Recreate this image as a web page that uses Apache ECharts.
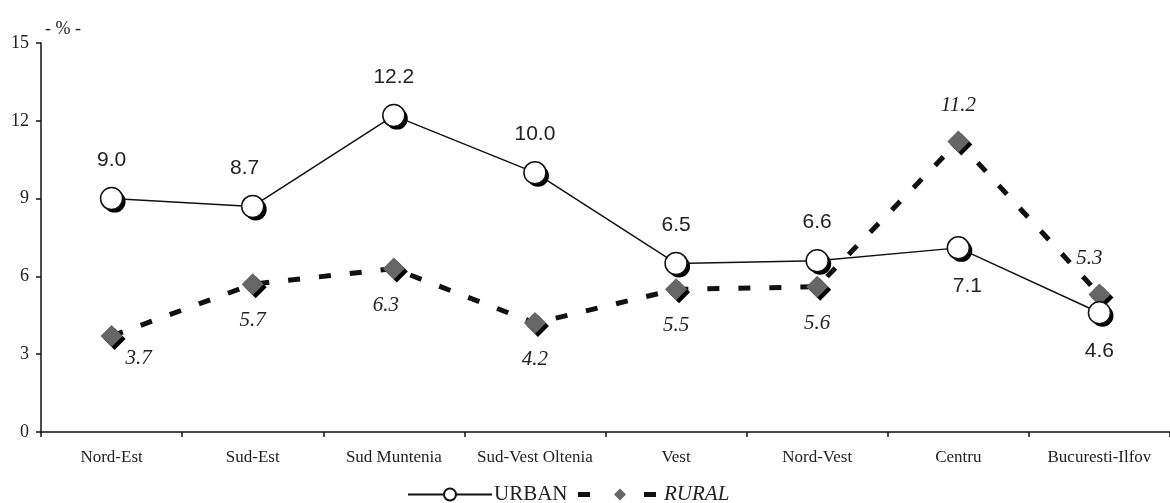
<!DOCTYPE html>
<html>
<head>
<meta charset="utf-8">
<script src="https://cdn.jsdelivr.net/npm/echarts@6/dist/echarts.min.js"></script>
<style>html,body{margin:0;padding:0;background:#fff;}#c{width:1170px;height:503px;}</style>
</head>
<body>
<div id="c"></div>
<script>
// ---- data ----
const categories = ['Nord-Est', 'Sud-Est', 'Sud Muntenia', 'Sud-Vest Oltenia', 'Vest', 'Nord-Vest', 'Centru', 'Bucuresti-Ilfov'];
const urban = [9.0, 8.7, 12.2, 10.0, 6.5, 6.6, 7.1, 4.6];
const rural = [3.7, 5.7, 6.3, 4.2, 5.5, 5.6, 11.2, 5.3];
const yTicks = [0, 3, 6, 9, 12, 15];
const seriesNames = ['URBAN', 'RURAL'];
const unitLabel = '- % -';

// ---- style-only per-point label nudges (not data) ----
const ruralLabelNudge = [[27, -14], [0, 0], [-8, 0], [0, 0], [0, 0], [0, 0], [0, 0], [-10, 0]];
const urbanLabelNudge = [[0, 0], [-8, 0], [0, 0], [0, 0], [0, 0], [0, 0], [9, 0], [0, 0]];

const serif = 'Liberation Serif';
const sans = 'Liberation Sans';

const urbanData = urban.map((v, i) => ({
  value: v,
  label: { position: v >= rural[i] ? 'top' : 'bottom', offset: urbanLabelNudge[i] }
}));
const ruralData = rural.map((v, i) => ({
  value: v,
  label: { position: v > urban[i] ? 'top' : 'bottom', offset: ruralLabelNudge[i] }
}));

function shadowSeries(values, symbol, size, z) {
  return {
    name: '_shadow' + z,
    type: 'line',
    data: values,
    symbol: symbol,
    symbolSize: size,
    symbolOffset: [3, 3],
    showAllSymbol: true,
    lineStyle: { width: 0, opacity: 0 },
    itemStyle: { color: '#000', borderWidth: 0 },
    label: { show: false },
    silent: true,
    tooltip: { show: false },
    emphasis: { disabled: true },
    z: z
  };
}

const chart = echarts.init(document.getElementById('c'), null, { renderer: 'canvas' });
chart.setOption({
  animation: false,
  backgroundColor: '#fff',
  title: {
    text: unitLabel, left: 40, top: 15,
    textStyle: { fontFamily: serif, fontSize: 18, fontWeight: 'normal', color: '#222' }
  },
  grid: { left: 41, top: 43, width: 1138, height: 389, containLabel: false },
  xAxis: {
    type: 'category',
    data: categories,
    boundaryGap: true,
    axisLine: { lineStyle: { color: '#111', width: 1.5 } },
    axisTick: { show: true, length: 5, inside: false, lineStyle: { color: '#111', width: 1.5 } },
    axisLabel: { fontFamily: serif, fontSize: 17, color: '#222', margin: 17, interval: 0 },
    splitLine: { show: false }
  },
  yAxis: {
    type: 'value',
    min: yTicks[0], max: yTicks[yTicks.length - 1], interval: yTicks[1] - yTicks[0],
    axisLine: { show: true, lineStyle: { color: '#111', width: 1.5 } },
    axisTick: { show: true, length: 5, lineStyle: { color: '#111', width: 1.5 } },
    axisLabel: { fontFamily: serif, fontSize: 18, color: '#222', margin: 12 },
    splitLine: { show: false }
  },
  legend: {
    left: 402, top: 479,
    itemWidth: 84, itemHeight: 15, itemGap: 8,
    itemStyle: { shadowBlur: 0, shadowOffsetX: 0, shadowOffsetY: 0, shadowColor: 'rgba(0,0,0,0)' },
    data: [
      { name: seriesNames[0], textStyle: { fontFamily: serif, fontSize: 21, color: '#222' } },
      { name: seriesNames[1], textStyle: { fontFamily: serif, fontStyle: 'italic', fontSize: 21, color: '#222' },
        lineStyle: { width: 5, type: [12, 54] } }
    ],
    textStyle: { padding: [0, 0, 0, -3] }
  },
  series: [
    shadowSeries(rural, 'diamond', 22, 1),
    {
      name: seriesNames[1],
      type: 'line',
      data: ruralData,
      symbol: 'diamond',
      symbolSize: 22,
      lineStyle: { color: '#111', width: 5, type: [12, 19] },
      itemStyle: { color: '#666', borderWidth: 0 },
      label: {
        show: true, distance: 15,
        formatter: p => p.value.toFixed(1),
        fontFamily: serif, fontStyle: 'italic', fontSize: 21, color: '#222'
      },
      z: 2
    },
    shadowSeries(urban, 'circle', 22, 3),
    {
      name: seriesNames[0],
      type: 'line',
      data: urbanData,
      symbol: 'circle',
      symbolSize: 22,
      lineStyle: { color: '#111', width: 1.5 },
      itemStyle: { color: '#fff', borderColor: '#111', borderWidth: 1.5 },
      label: {
        show: true, distance: 16,
        formatter: p => p.value.toFixed(1),
        fontFamily: sans, fontSize: 21, color: '#222'
      },
      z: 4
    }
  ]
});
</script>
</body>
</html>
